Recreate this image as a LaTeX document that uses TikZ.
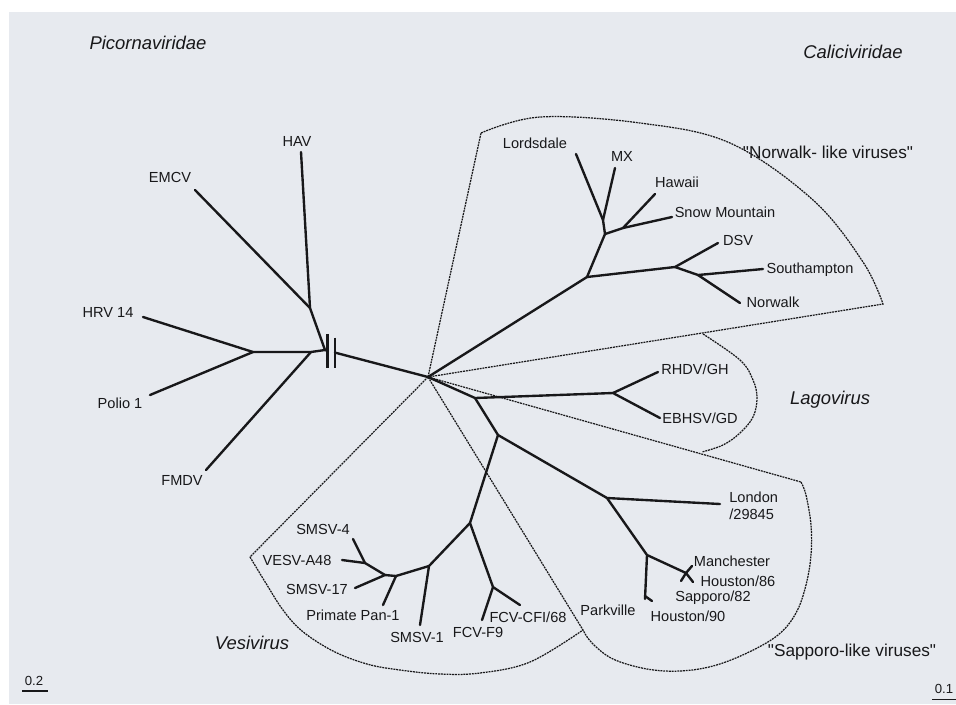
\documentclass[tikz,border=0pt]{standalone}
\usepackage{fontspec}
\setmainfont{Liberation Sans}
\usetikzlibrary{positioning}

\definecolor{paper}{RGB}{231,234,239}
\definecolor{ink}{RGB}{24,24,26}

\begin{document}
\begin{tikzpicture}[
    x=0.02cm, y=-0.02cm,
    branch/.style={draw=ink, line width=1.35pt, line cap=round, line join=round},
    bound/.style={draw=ink, line width=0.7pt, dash pattern=on 1.1pt off 0.5pt},
    taxon/.style={font=\fontsize{8.3}{9.5}\selectfont, text=ink, inner sep=0pt},
    family/.style={font=\fontsize{10.5}{12}\selectfont\itshape, text=ink, inner sep=0pt},
    clade/.style={font=\fontsize{9.8}{11}\selectfont, text=ink, inner sep=0pt},
    scalebar/.style={font=\fontsize{7.5}{9}\selectfont, text=ink, inner sep=0pt},
    ]

   % Page.
   \useasboundingbox (0,0) rectangle (956,704);
   \fill[white] (0,0) rectangle (956,704);
   \fill[paper] (9,12) rectangle (956,704);

   % Junctions.
   \coordinate (root) at (428,377);
   \coordinate (j1) at (253,352);
   \coordinate (j2) at (311,352);
   \coordinate (e1) at (310,308);
   \coordinate (j3) at (325,350);
   \coordinate (cut1) at (328,350.8);
   \coordinate (cut2) at (335,352.6);
   \coordinate (n1) at (587,277);
   \coordinate (n2) at (605,234);
   \coordinate (n3) at (603,220);
   \coordinate (n4) at (623,228);
   \coordinate (d1) at (675,267);
   \coordinate (d2) at (698,275);
   \coordinate (s1) at (475,398);
   \coordinate (l1) at (613,393);
   \coordinate (s2) at (498,435);
   \coordinate (p1) at (607,498);
   \coordinate (p2) at (647,555);
   \coordinate (p3) at (645,596);
   \coordinate (m1) at (686,573);
   \coordinate (v1) at (470,523);
   \coordinate (f1) at (493,587);
   \coordinate (v2) at (429,566);
   \coordinate (v3) at (396,576);
   \coordinate (v4) at (385,575);
   \coordinate (v5) at (365,563);

   % Tips.
   \coordinate (t-hav) at (301,152);
   \coordinate (t-emcv) at (195,190);
   \coordinate (t-hrv) at (143,317);
   \coordinate (t-polio) at (150,395);
   \coordinate (t-fmdv) at (206,470);
   \coordinate (t-lords) at (576,154);
   \coordinate (t-mx) at (615,168);
   \coordinate (t-hawaii) at (655,194);
   \coordinate (t-snow) at (672,217);
   \coordinate (t-dsv) at (718,243);
   \coordinate (t-south) at (763,269);
   \coordinate (t-norwalk) at (740,303);
   \coordinate (t-rhdv) at (658,372);
   \coordinate (t-ebhsv) at (660,418);
   \coordinate (t-london) at (720,504);
   \coordinate (t-park) at (645,599);
   \coordinate (t-hou90) at (652,601);
   \coordinate (t-manch) at (692,566);
   \coordinate (t-hou86) at (693,582);
   \coordinate (t-sap82) at (681,581);
   \coordinate (t-cfi) at (520,605);
   \coordinate (t-f9) at (482,620);
   \coordinate (t-smsv1) at (420,625);
   \coordinate (t-pan) at (383,605);
   \coordinate (t-smsv17) at (355,588);
   \coordinate (t-smsv4) at (353,539);
   \coordinate (t-vesv) at (342,560);

   % Picornaviridae.
   \draw[branch] (t-hav) -- (e1);
   \draw[branch] (t-emcv) -- (e1);
   \draw[branch] (e1) -- (j3);
   \draw[branch] (t-hrv) -- (j1);
   \draw[branch] (t-polio) -- (j1);
   \draw[branch] (j1) -- (j2) -- (j3);
   \draw[branch] (t-fmdv) -- (j2);
   \draw[branch] (j3) -- (cut1);
   \draw[branch] (cut2) -- (root);
   \draw[branch, line cap=butt] (cut1) ++(-0.5,-17) -- ++(0,34);
   \draw[branch, line cap=butt] (cut2) ++(0,-15) -- ++(0,30);

   % Norwalk-like.
   \draw[branch] (root) -- (n1) -- (n2) -- (n3);
   \draw[branch] (t-lords) -- (n3);
   \draw[branch] (t-mx) -- (n3);
   \draw[branch] (n2) -- (n4);
   \draw[branch] (t-hawaii) -- (n4);
   \draw[branch] (t-snow) -- (n4);
   \draw[branch] (n1) -- (d1) -- (t-dsv);
   \draw[branch] (d1) -- (d2);
   \draw[branch] (d2) -- (t-south);
   \draw[branch] (d2) -- (t-norwalk);

   % Lagovirus.
   \draw[branch] (root) -- (s1) -- (l1);
   \draw[branch] (l1) -- (t-rhdv);
   \draw[branch] (l1) -- (t-ebhsv);

   % Sapporo-like.
   \draw[branch] (s1) -- (s2) -- (p1) -- (t-london);
   \draw[branch] (p1) -- (p2) -- (t-park);
   \draw[branch] (p3) -- (t-hou90);
   \draw[branch] (p2) -- (m1);
   \draw[branch] (m1) -- (t-manch);
   \draw[branch] (m1) -- (t-hou86);
   \draw[branch] (m1) -- (t-sap82);

   % Vesivirus.
   \draw[branch] (s2) -- (v1) -- (f1);
   \draw[branch] (f1) -- (t-cfi);
   \draw[branch] (f1) -- (t-f9);
   \draw[branch] (v1) -- (v2) -- (t-smsv1);
   \draw[branch] (v2) -- (v3) -- (t-pan);
   \draw[branch] (v3) -- (v4) -- (t-smsv17);
   \draw[branch] (v4) -- (v5);
   \draw[branch] (v5) -- (t-smsv4);
   \draw[branch] (v5) -- (t-vesv);

   % Group outlines.
   \coordinate (nw-a) at (481,133);
   \coordinate (nw-b) at (883,304);
   \coordinate (lg-a) at (703,334);
   \coordinate (lg-b) at (702,452);
   \coordinate (sp-a) at (801,482);
   \coordinate (sp-b) at (583,630);
   \coordinate (vs-a) at (250,557);
   \draw[bound] (root) -- (nw-a)
      plot[smooth, tension=0.6] coordinates {(481,133) (540,117) (640,123) (730,143) (813,200) (863,262) (883,304)}
      -- (root);
   \draw[bound] plot[smooth, tension=0.6] coordinates {(703,334) (740,360) (753,380) (757,398) (753,417) (740,433) (723,445) (702,452)};
   \draw[bound] (root) -- (sp-a)
      plot[smooth, tension=0.6] coordinates {(801,482) (806,495) (811,525) (811,555) (806,585) (796,613) (778,635) (747,653) (713,666) (680,671) (647,669) (613,659) (592,643) (583,630)}
      -- (root);
   \draw[bound] (root) -- (vs-a)
      plot[smooth, tension=0.6] coordinates {(250,557) (267,585) (283,610) (302,631) (333,651) (367,664) (400,670) (440,674) (480,673) (530,662) (583,630)};

   % Taxa.
   \node[taxon] (hav) at (297,141) {HAV};
   \node[taxon] (emcv) at (170,177) {EMCV};
   \node[taxon] (hrv) at (108,312) {HRV 14};
   \node[taxon] (polio) at (120,403) {Polio 1};
   \node[taxon] (fmdv) at (182,480) {FMDV};
   \node[taxon] (lords) at (535,143) {Lordsdale};
   \node[taxon] (mx) at (622,156) {MX};
   \node[taxon] (hawaii) at (677,182) {Hawaii};
   \node[taxon] (snow) at (725,212) {Snow Mountain};
   \node[taxon] (dsv) at (738,240) {DSV};
   \node[taxon] (south) at (810,270) {Southampton};
   \node[taxon] (norwalk) at (773,302) {Norwalk};
   \node[taxon] (rhdv) at (695,369) {RHDV/GH};
   \node[taxon] (ebhsv) at (700,418) {EBHSV/GD};
   \node[taxon, align=left, anchor=west] (london) at (729,506) {London\\/29845};
   \node[taxon] (manch) at (732,561) {Manchester};
   \node[taxon] (hou86) at (738,581) {Houston/86};
   \node[taxon] (sap82) at (713,598) {Sapporo/82};
   \node[taxon] (park) at (608,610) {Parkville};
   \node[taxon] (hou90) at (688,616) {Houston/90};
   \node[taxon] (smsv4) at (323,529) {SMSV-4};
   \node[taxon] (vesv) at (297,560) {VESV-A48};
   \node[taxon] (smsv17) at (317,589) {SMSV-17};
   \node[taxon] (pan) at (353,615) {Primate Pan-1};
   \node[taxon] (smsv1) at (417,637) {SMSV-1};
   \node[taxon] (f9) at (478,632) {FCV-F9};
   \node[taxon] (cfi) at (528,617) {FCV-CFI/68};

   % Families and genera.
   \node[family] (picorna) at (148,43) {Picornaviridae};
   \node[family] (calici) at (853,52) {Caliciviridae};
   \node[family] (lago) at (830,400) {Lagovirus};
   \node[family] (vesi) at (252,643) {Vesivirus};
   \node[clade] (nlv) at (828,152) {\textquotedbl Norwalk- like viruses\textquotedbl};
   \node[clade] (slv) at (852,652) {\textquotedbl Sapporo-like viruses\textquotedbl};

   % Scales.
   \node[scalebar] (sc2) at (34,681) {0.2};
   \draw[ink, line width=0.9pt] (sc2.south west) ++(-2,5) -- ++(26,0);
   \node[scalebar] (sc1) at (944,689) {0.1};
   \draw[ink, line width=0.9pt] (sc1.south east) ++(4,5.5) -- ++(-26,0);
\end{tikzpicture}
\end{document}
